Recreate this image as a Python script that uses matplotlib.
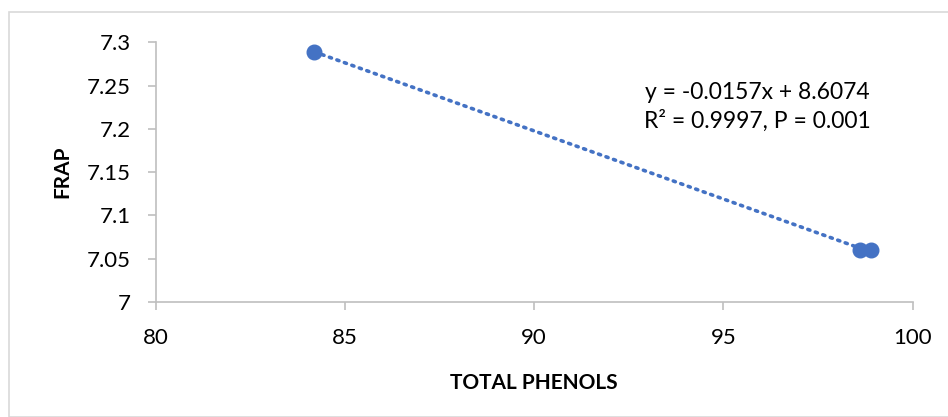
import numpy as np
import matplotlib.pyplot as plt
from matplotlib.patches import Rectangle

# data
total_phenols = [84.2, 98.6, 98.9]
frap = [7.289, 7.06, 7.06]
x_ticks = [80, 85, 90, 95, 100]
y_ticks = [7, 7.05, 7.1, 7.15, 7.2, 7.25, 7.3]
y_tick_labels = ['7', '7.05', '7.1', '7.15', '7.2', '7.25', '7.3']
eq_text = 'y = -0.0157x + 8.6074\nR² = 0.9997, P = 0.001'

plt.rcParams['font.family'] = ['Lato', 'DejaVu Sans']
blue = '#4472C4'
grey = '#BFBFBF'

fig = plt.figure(figsize=(9.48, 4.17), dpi=100)
fig.patches.append(Rectangle((9 / 948, 0), 1, 1 - 12 / 417, transform=fig.transFigure,
                             fill=False, edgecolor='#D9D9D9', linewidth=1.2))
ax = fig.add_axes([155.5 / 948, 1 - 302 / 417, 757 / 948, 259.7 / 417])

# linear trendline through the points
coef = np.polyfit(total_phenols, frap, 1)
xs = np.array([min(total_phenols), max(total_phenols)])
ax.plot(xs, np.polyval(coef, xs), linestyle=(0, (0.6, 1.6)), color=blue,
        linewidth=2.6, dash_capstyle='round', zorder=2)
ax.plot(total_phenols, frap, 'o', color=blue, markersize=10.5, zorder=3)

ax.set_xlim(80, 100)
ax.set_ylim(7, 7.3)
ax.set_xticks(x_ticks)
ax.set_yticks(y_ticks)
ax.set_yticklabels(y_tick_labels)

for s in ['top', 'right']:
    ax.spines[s].set_visible(False)
for s in ['left', 'bottom']:
    ax.spines[s].set_color(grey)
    ax.spines[s].set_linewidth(1.2)
ax.tick_params(axis='both', direction='out', length=6, width=1.2, color=grey,
               labelsize=16, labelcolor='black')
ax.tick_params(axis='x', pad=13)
ax.tick_params(axis='y', pad=12)

ax.set_xlabel('TOTAL PHENOLS', fontsize=15, fontweight='bold', labelpad=18)
fig.text(62 / 948, 1 - 172 / 417, 'FRAP', rotation=90, fontsize=15,
         fontweight='bold', ha='center', va='center')

ax.text(757, 417 - 107, eq_text, transform=None, fontsize=16.5, ha='center',
        va='center', linespacing=1.4)

fig.savefig('out.png', dpi=100)
